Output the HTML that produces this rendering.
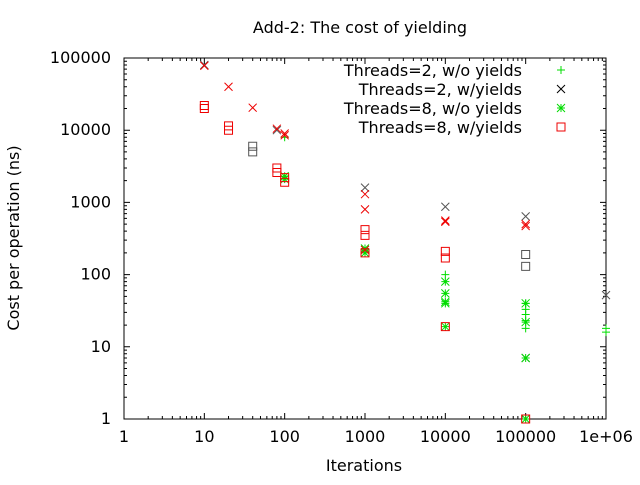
<!DOCTYPE html>
<html><head><meta charset="utf-8"><style>
body{margin:0;background:#fff}
svg text{font-family:"DejaVu Sans","Liberation Sans",sans-serif;font-size:16px;fill:#000}
</style></head><body>
<svg id="chart" width="640" height="480" viewBox="0 0 640 480" xmlns="http://www.w3.org/2000/svg">
<text x="360" y="33" text-anchor="middle">Add-2: The cost of yielding</text>
<text x="364" y="471" text-anchor="middle">Iterations</text>
<text transform="translate(19,238) rotate(-90)" text-anchor="middle">Cost per operation (ns)</text>
<g id="axes"></g>
<g id="marks"></g>
<g id="legend"></g>
</svg>
<script>
const xTickLabels=["1","10","100","1000","10000","100000","1e+06"];
const yTickLabels=["1","10","100","1000","10000","100000"];
const plusX=[100,1000,10000,100000,100000,100000,100000,100000,1000000,1000000];
const plusY=[8000,220,100,40,33,28,23,18,18,16];
const xsGrayX=[10,80,1000,10000,100000,1000000,100000];
const ysGrayX=[80000,10000,1600,870,640,52,7];
const xsRedX=[10,20,40,80,100,100,1000,1000,10000,10000,100000,100000,1000];
const ysRedX=[78000,40000,20500,10500,9000,8500,1300,800,540,560,470,500,220];
const starX=[100,100,1000,1000,10000,10000,10000,10000,10000,100000,100000,100000,100000];
const starY=[2300,2100,230,200,80,55,42,40,19,40,22,7,1];
const boxX=[10,10,20,20,80,80,100,100,1000,1000,1000,10000,10000,10000,100000];
const boxY=[22000,20000,11500,10000,3000,2600,2200,1900,420,350,200,210,170,19,1];
const grayBoxX=[40,40,100000,100000];
const grayBoxY=[6000,5000,190,130];

const L=124,R=606,T=58,B=419;
const sx=v=>L+(R-L)*Math.log10(v)/6;
const sy=v=>B-(B-T)*Math.log10(v)/5;
const NS="http://www.w3.org/2000/svg";
function mk(tag,attrs,parent){const e=document.createElementNS(NS,tag);for(const k in attrs)e.setAttribute(k,attrs[k]);parent.appendChild(e);return e;}
const axes=document.getElementById('axes');
const frame=mk('rect',{x:L,y:T,width:R-L,height:B-T,fill:'none',stroke:'#000','stroke-width':1},axes);


let d='';
for(let i=0;i<xTickLabels.length;i++){
  const x=sx(Math.pow(10,i));
  d+=`M${x},${B}v-6M${x},${T}v6`;
  const t=mk('text',{x:x,y:B+23,'text-anchor':'middle'},axes);t.textContent=xTickLabels[i];
  
  
  if(i<6)for(let m=2;m<10;m++){const xm=sx(Math.pow(10,i)*m);d+=`M${xm},${B}v-3M${xm},${T}v3`;}
}
for(let i=0;i<yTickLabels.length;i++){
  const y=sy(Math.pow(10,i));
  d+=`M${L},${y}h6M${R},${y}h-6`;
  const t=mk('text',{x:L-13,y:y+5,'text-anchor':'end'},axes);t.textContent=yTickLabels[i];
  
  
  if(i<5)for(let m=2;m<10;m++){const ym=sy(Math.pow(10,i)*m);d+=`M${L},${ym}h3M${R},${ym}h-3`;}
}
const tk=mk('path',{d:d,stroke:'#000','stroke-width':1,fill:'none'},axes);



const marks=document.getElementById('marks');
function sym(type,x,y,color,parent){
  let dd;
  if(type==='plus')dd=`M${x-4},${y}h8M${x},${y-4}v8`;
  else if(type==='x')dd=`M${x-4},${y-4}l8,8M${x-4},${y+4}l8,-8`;
  else if(type==='star')dd=`M${x-4},${y}h8M${x},${y-4}v8M${x-4},${y-4}l8,8M${x-4},${y+4}l8,-8`;
  else dd=`M${x-4},${y-4}h8v8h-8z`;
  return mk('path',{d:dd,stroke:color,'stroke-width':1,fill:'none'},parent);
}
function series(xs,ys,type,color,name){
  const g=mk('g',{},marks);
  
  
  for(let i=0;i<xs.length;i++){
    const p=sym(type,sx(xs[i]),sy(ys[i]),color,g);
    
    
  }
}
series(xsGrayX,ysGrayX,'x','#555','series-threads2-yields');
series(grayBoxX,grayBoxY,'box','#555','series-extra-box');
series(plusX,plusY,'plus','#00dd00','series-threads2-no-yields');
series(starX,starY,'star','#00dd00','series-threads8-no-yields');
series(xsRedX,ysRedX,'x','#ee0000','series-extra-x');
series(boxX,boxY,'box','#ee0000','series-threads8-yields');

const legend=document.getElementById('legend');
const legendLabels=["Threads=2, w/o yields","Threads=2, w/yields","Threads=8, w/o yields","Threads=8, w/yields"];
const legendTypes=['plus','x','star','box'];
const legendColors=['#00dd00','#000','#00dd00','#ee0000'];
for(let i=0;i<4;i++){
  const y=70+i*19;
  const t=mk('text',{x:522,y:y+6,'text-anchor':'end'},legend);t.textContent=legendLabels[i];
  
  
  const p=sym(legendTypes[i],561,y,legendColors[i],legend);
  
  
}
</script>
</body></html>
